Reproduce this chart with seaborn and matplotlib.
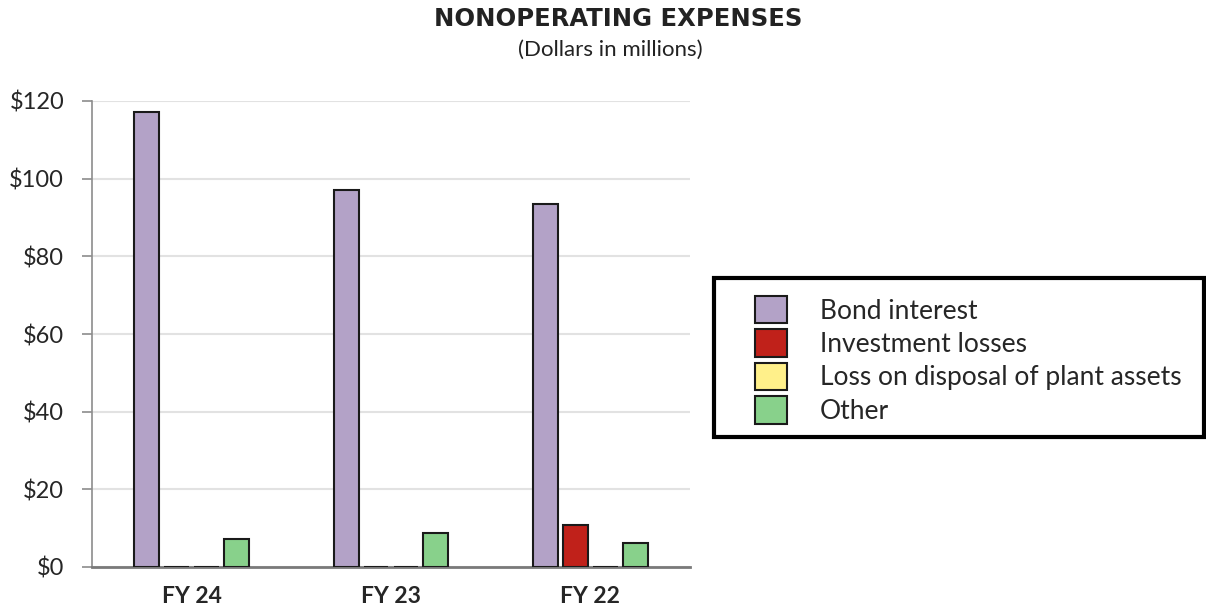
import seaborn as sns
import pandas as pd
import matplotlib.pyplot as plt
from matplotlib.patches import Patch, Rectangle

# data (dollars in millions)
years = ["FY 24", "FY 23", "FY 22"]
series = ["Bond interest", "Investment losses", "Loss on disposal of plant assets", "Other"]
bond_interest = [117.2, 97.1, 93.4]
investment_losses = [0.0, 0.0, 10.8]
loss_on_disposal = [0.0, 0.0, 0.0]
other = [7.1, 8.7, 6.2]
colors = ["#B3A2C7", "#C0211A", "#FFF08A", "#88D18B"]
yticks = [0, 20, 40, 60, 80, 100, 120]

rows = []
for name, vals in zip(series, [bond_interest, investment_losses, loss_on_disposal, other]):
    for yr, v in zip(years, vals):
        rows.append({"year": yr, "series": name, "value": v})
df = pd.DataFrame(rows)

sns.set_style("white")
plt.rcParams['font.family'] = ['Lato', 'DejaVu Sans']

fig = plt.figure(figsize=(12.06, 6.11), dpi=100)
ax = fig.add_axes([92 / 1206, 44 / 611, 598 / 1206, 466 / 611])

sns.barplot(data=df, x="year", y="value", hue="series", order=years, hue_order=series,
            palette=colors, width=0.6, gap=0.17, edgecolor="#1a1a1a", linewidth=1.5,
            saturation=1, legend=False, ax=ax, zorder=3)

ax.set_ylim(0, 120)
ax.set_xlim(-0.5, 2.5)
ax.set_yticks(yticks)
ax.set_yticklabels([f"${v}" for v in yticks], fontsize=17)
ax.set_xlabel("")
ax.set_ylabel("")
ax.yaxis.grid(True, color="#e2e2e2", linewidth=1.5, zorder=0)
ax.set_axisbelow(True)
for lbl in ax.get_xticklabels():
    lbl.set_fontweight("bold")
    lbl.set_fontsize(16.5)
ax.tick_params(axis="x", length=0, pad=14)
ax.tick_params(axis="y", length=7, width=1.2, color="#8c8c8c", pad=13, left=True)
sns.despine(ax=ax, top=True, right=True)
ax.spines["left"].set_color("#8c8c8c")
ax.spines["left"].set_linewidth(1.2)
ax.spines["bottom"].set_color("#7a7a7a")
ax.spines["bottom"].set_linewidth(2)

fig.text(618 / 1206, 1 - 19 / 611, "NONOPERATING EXPENSES", ha="center", va="center",
         fontsize=17.5, fontweight="bold", color="#222222", family=["DejaVu Sans"])
fig.text(610 / 1206, 1 - 50 / 611, "(Dollars in millions)", ha="center", va="center",
         fontsize=16, color="#222222")

handles = [Patch(facecolor=c, edgecolor="#1a1a1a", linewidth=1.5) for c in colors]
leg = fig.legend(handles, series, loc="upper left", bbox_to_anchor=(755 / 1206, 1 - 296 / 611),
                 frameon=False, fontsize=19, handlelength=1.21, handleheight=1.22,
                 handletextpad=1.25, labelspacing=0.22, borderpad=0, borderaxespad=0)
fig.patches.append(Rectangle((714 / 1206, 1 - 437 / 611), 490 / 1206, 159 / 611,
                             transform=fig.transFigure, fill=False, edgecolor="black",
                             linewidth=3))

fig.savefig("out.png", dpi=100)
